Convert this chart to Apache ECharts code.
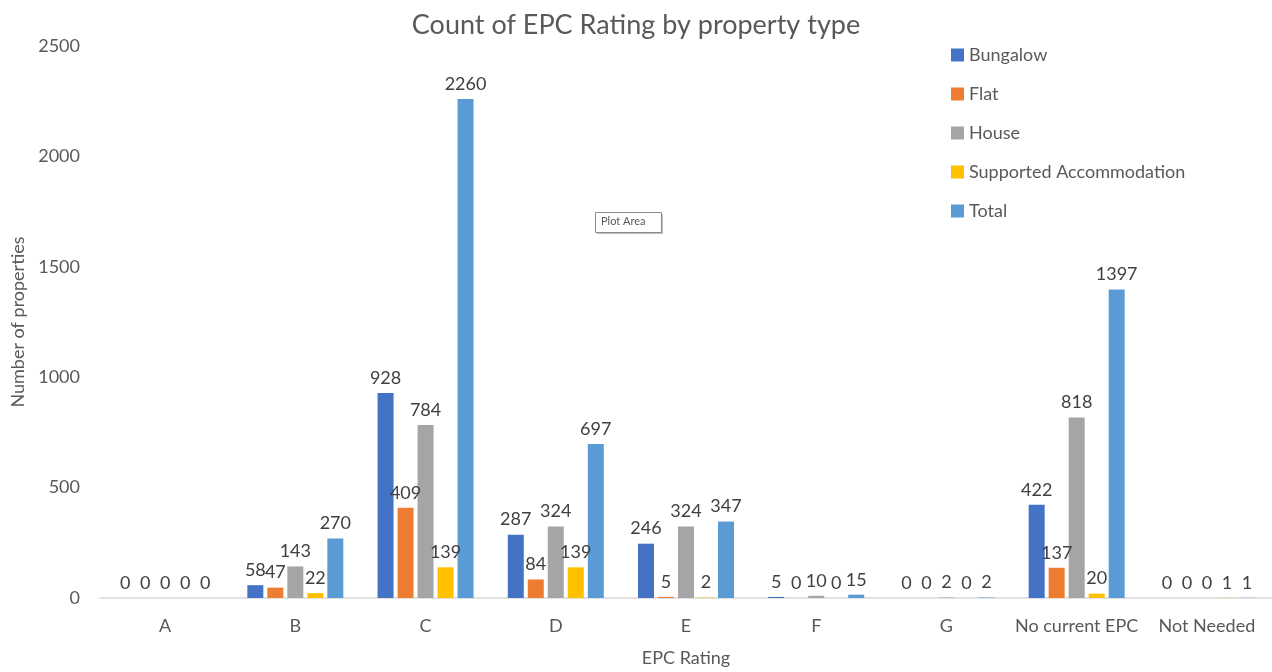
<html>
<head>
<meta charset="UTF-8">
<title>Count of EPC Rating by property type</title>
<script src="https://cdn.jsdelivr.net/npm/echarts@6/dist/echarts.min.js"></script>
<style>
html, body { margin: 0; padding: 0; background: #fff; }
#main { width: 1272px; height: 672px; }
</style>
</head>
<body>
<div id="main"></div>
<script>
// EPC ratings (x axis)
var ratings = ['A', 'B', 'C', 'D', 'E', 'F', 'G', 'No current EPC', 'Not Needed'];
// counts per property type
var bungalow  = [0, 58, 928, 287, 246, 5, 0, 422, 0];
var flat      = [0, 47, 409, 84, 5, 0, 0, 137, 0];
var house     = [0, 143, 784, 324, 324, 10, 2, 818, 0];
var supported = [0, 22, 139, 139, 2, 0, 0, 20, 1];
var total     = [0, 270, 2260, 697, 347, 15, 2, 1397, 1];

var names  = ['Bungalow', 'Flat', 'House', 'Supported Accommodation', 'Total'];
var values = [bungalow, flat, house, supported, total];
var colors = ['#4472C4', '#ED7D31', '#A5A5A5', '#FFC000', '#5B9BD5'];

var font = 'Lato, "Open Sans", sans-serif';

var series = [];
for (var i = 0; i < names.length; i++) {
	series.push({
		name: names[i],
		type: 'bar',
		data: values[i],
		barWidth: 16,
		barGap: '25%',
		itemStyle: { color: colors[i] },
		label: {
			show: true,
			position: 'top',
			distance: 6,
			color: '#404040',
			fontFamily: font,
			fontSize: 18
		}
	});
}

var option = {
	animation: false,
	color: colors,
	title: {
		text: 'Count of EPC Rating by property type',
		left: 'center',
		top: 7,
		textStyle: { color: '#595959', fontFamily: font, fontSize: 27, fontWeight: 'normal' }
	},
	legend: {
		orient: 'vertical',
		left: 946,
		top: 41,
		itemWidth: 13,
		itemHeight: 13,
		itemGap: 21,
		icon: 'rect',
		data: names,
		textStyle: { color: '#595959', fontFamily: font, fontSize: 18 }
	},
	grid: {
		left: 100,
		top: 46,
		width: 1179,
		height: 553
	},
	xAxis: {
		type: 'category',
		data: ratings,
		name: 'EPC Rating',
		nameLocation: 'middle',
		nameGap: 51,
		nameTextStyle: { color: '#595959', fontFamily: font, fontSize: 18 },
		axisLine: { lineStyle: { color: '#D9D9D9', width: 1.5 } },
		axisTick: { show: false },
		axisLabel: { color: '#595959', fontFamily: font, fontSize: 18, margin: 19, interval: 0 }
	},
	yAxis: {
		type: 'value',
		min: 0,
		max: 2500,
		interval: 500,
		name: 'Number of properties',
		nameLocation: 'middle',
		nameGap: 72,
		nameTextStyle: { color: '#595959', fontFamily: font, fontSize: 18 },
		axisLine: { show: false },
		axisTick: { show: false },
		splitLine: { show: false },
		axisLabel: {
			color: '#595959', fontFamily: font, fontSize: 18, margin: 20,
			formatter: function (v) { return String(v); }
		}
	},
	graphic: [
		{
			type: 'rect',
			left: 597, top: 214,
			shape: { width: 66, height: 20 },
			style: { fill: '#BFBFBF' }
		},
		{
			type: 'rect',
			left: 595, top: 212,
			shape: { width: 66, height: 20 },
			style: { fill: '#fff', stroke: '#8C8C8C', lineWidth: 1 }
		},
		{
			type: 'text',
			left: 601, top: 216,
			style: { text: 'Plot Area', fill: '#595959', font: '11px ' + font }
		}
	],
	series: series
};

var chart = echarts.init(document.getElementById('main'));
chart.setOption(option);
</script>
</body>
</html>
